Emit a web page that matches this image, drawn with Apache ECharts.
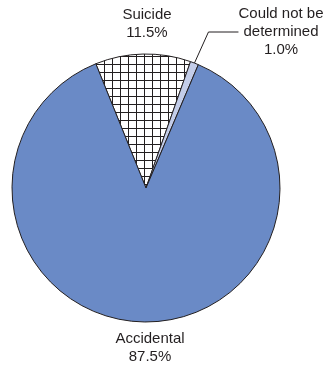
<!DOCTYPE html>
<html>
<head>
<meta charset="utf-8">
<script src="https://cdn.jsdelivr.net/npm/echarts@6/dist/echarts.min.js"></script>
<style>
  html, body { margin: 0; padding: 0; background: #fff; }
  #chart { width: 325px; height: 366px; }
</style>
</head>
<body>
<div id="chart"></div>
<script>
var names = ['Suicide', 'Could not be\ndetermined', 'Accidental'];
var values = [11.5, 1.0, 87.5];

// grid hatch for the suicide slice
var hatch = document.createElement('canvas');
hatch.width = 8;
hatch.height = 8;
var ctx = hatch.getContext('2d');
ctx.fillStyle = '#fff';
ctx.fillRect(0, 0, 8, 8);
ctx.strokeStyle = '#231f20';
ctx.lineWidth = 1;
ctx.beginPath();
ctx.moveTo(0.5, 0); ctx.lineTo(0.5, 8);
ctx.moveTo(0, 0.5); ctx.lineTo(8, 0.5);
ctx.stroke();

var fills = [{ image: hatch, repeat: 'repeat' }, '#c3cde9', '#6a8ac6'];
var labelPos = [[147, 24], [281, 32], [150, 348]];

var chart = echarts.init(document.getElementById('chart'));
var option = {
  animation: false,
  series: [
    {
      type: 'pie',
      center: [146, 188],
      radius: 134,
      startAngle: 112,
      clockwise: true,
      data: names.map(function (n, i) {
        return {
          name: n,
          value: values[i],
          itemStyle: { color: fills[i] },
          labelLine: { show: i === 1 }
        };
      }),
      itemStyle: { borderColor: '#231f20', borderWidth: 1 },
      label: {
        position: 'outside',
        color: '#231f20',
        fontFamily: 'Liberation Sans',
        fontSize: 15,
        lineHeight: 18,
        align: 'center',
        overflow: 'none',
        formatter: function (p) {
          return p.name + '\n' + p.value.toFixed(1) + '%';
        }
      },
      labelLine: {
        length: 8,
        length2: 30,
        lineStyle: { color: '#231f20', width: 1 }
      },
      labelLayout: function (params) {
        var pos = labelPos[params.dataIndex];
        return { x: pos[0], y: pos[1], align: 'center', verticalAlign: 'middle' };
      },
      emphasis: { disabled: true }
    }
  ]
};
chart.setOption(option);
</script>
</body>
</html>
